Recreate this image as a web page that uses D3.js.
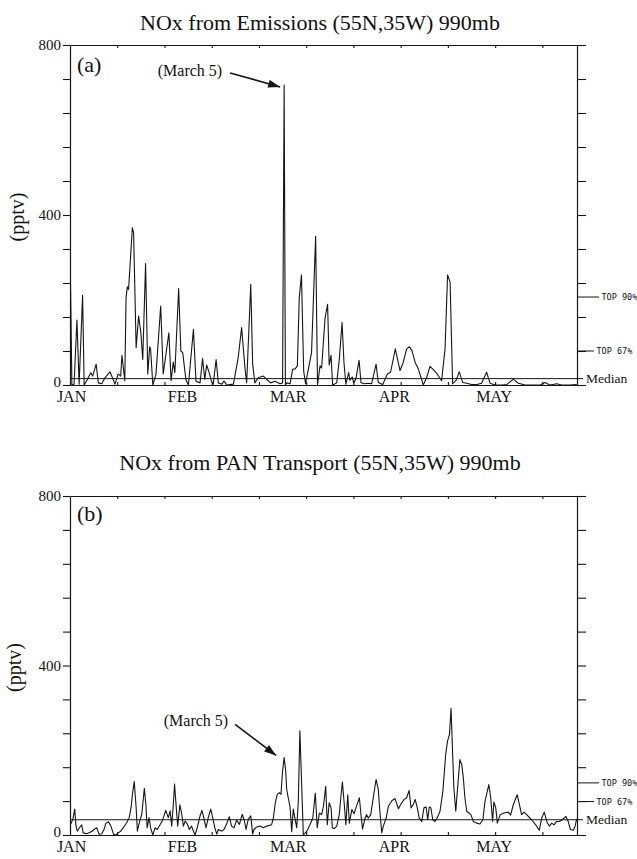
<!DOCTYPE html>
<html>
<head>
<meta charset="utf-8">
<script src="https://cdn.jsdelivr.net/npm/d3@7/dist/d3.min.js"></script>
<style>
  body { margin: 0; background: #fff; }
  svg { display: block; }
  text { fill: #111; }
</style>
</head>
<body>
<svg id="chart" width="637" height="859"></svg>
<script>
// ---- data: [day since Jan 1, NOx (pptv)] ----
const emissionsSeries = [
  [0,330],[0.6,0],[1.3,2],[2.2,153],[2.9,2],[4.0,211],[4.5,0],[5.5,13],[6.6,29],[7.2,21],[8.3,49],[9.0,5],
  [10.1,3],[11.1,17],[12.7,31],[14.3,2],[15.3,26],[16.1,21],[16.5,70],[17.4,10],[17.8,205],[18.2,231],[18.6,225],
  [19.8,370],[20.2,358],[21.0,88],[21.8,162],[22.5,123],[23.1,60],[24.0,286],[24.7,26],[25.3,90],[25.6,84],[26.3,0],
  [27.3,25],[28.8,186],[29.6,26],[31.4,123],[32.1,10],[32.8,54],[33.3,29],[34.5,227],[35.2,80],[35.8,76],[36.8,13],
  [37.6,0],[39.2,131],[40.0,9],[41.3,5],[42.1,62],[42.8,13],[43.4,47],[44.2,29],[44.9,9],[45.5,2],[46.4,60],[47.1,5],
  [48.2,2],[48.9,9],[49.8,0],[51.9,2],[53.4,64],[54.5,135],[55.6,37],[56.1,5],[57.4,237],[58.0,49],[58.7,5],[59.8,17],
  [61.4,21],[62.5,13],[63.7,5],[65.1,9],[66.7,3],[67.5,5],[68.0,706],[68.4,0],[68.8,5],[69.9,3],[70.7,37],[71.5,38],
  [72.2,45],[72.8,205],[73.5,259],[74.2,33],[74.8,3],[76.7,76],[78.0,350],[78.6,0],[79.4,45],[79.9,40],[81.0,158],
  [81.8,190],[82.3,47],[82.9,70],[83.4,0],[84.7,5],[85.5,59],[86.4,147],[87.0,53],[87.6,2],[88.5,29],[88.9,11],
  [89.6,19],[90.1,5],[90.8,15],[91.8,58],[92.4,6],[93.4,3],[94.7,4],[95.8,3],[97.2,49],[97.9,6],[99.3,1],[100.8,26],
  [101.8,30],[103.3,85],[104.8,34],[105.8,53],[106.9,85],[107.8,90],[108.6,81],[109.6,53],[110.6,38],[112.2,0],
  [113.3,18],[114.3,44],[115.4,36],[116.6,26],[118.0,10],[119.1,85],[119.9,259],[120.7,242],[121.5,3],[122.6,11],
  [123.6,31],[124.7,6],[126.0,4],[127.6,1],[129.2,1],[130.7,4],[132.3,30],[133.4,4],[135.0,0],[137.1,0],[138.7,1],
  [140.8,14],[142.4,4],[144.5,0],[147.1,0],[149.3,0],[150.8,6],[152.4,0],[154.6,3],[156.1,0],[158.8,0],[160.9,1]
];

const panSeries = [
  [0,35],[0.2,25],[0.9,37],[1.5,61],[1.9,21],[2.3,9],[3.0,17],[3.7,24],[4.2,5],[5.3,3],[6.9,8],[7.6,13],[8.5,17],
  [9.2,2],[10.1,3],[10.8,13],[11.4,28],[12.2,31],[13.0,21],[13.8,2],[14.5,0],[15.3,5],[16.1,9],[17.1,19],[18.0,29],
  [18.8,41],[19.4,65],[19.9,100],[20.4,126],[21.0,65],[21.4,9],[22.0,29],[22.8,49],[23.6,110],[24.1,72],[24.5,17],
  [25.1,41],[25.6,17],[26.3,0],[27.0,17],[27.7,13],[28.6,24],[29.4,35],[30.4,58],[31.2,41],[31.8,57],[32.3,21],
  [32.8,72],[33.2,120],[33.7,69],[34.2,21],[34.9,71],[35.5,49],[36.0,21],[36.6,33],[37.3,25],[37.9,13],[38.6,21],
  [39.2,9],[39.7,0],[40.4,17],[41.3,45],[41.9,58],[42.6,37],[43.2,17],[43.9,41],[44.7,61],[45.3,41],[46.0,17],
  [46.6,2],[47.1,13],[48.2,9],[48.9,13],[49.8,27],[50.6,43],[51.3,21],[52.1,17],[52.9,35],[53.8,25],[54.7,49],
  [55.4,33],[55.9,13],[56.6,37],[57.4,45],[58.0,2],[58.4,13],[59.3,19],[60.3,21],[61.4,17],[62.5,21],[64.0,24],
  [64.6,41],[65.2,76],[65.8,96],[66.5,100],[67.0,96],[67.5,151],[68.0,183],[68.5,151],[68.8,108],[69.3,88],[69.9,65],
  [70.4,8],[70.9,61],[71.5,37],[72.0,17],[72.5,80],[73.0,246],[73.6,112],[74.1,0],[75.2,9],[76.2,24],[77.1,40],
  [77.9,99],[78.5,17],[79.2,52],[79.9,48],[80.5,68],[81.2,115],[81.7,24],[82.3,76],[82.9,64],[83.3,17],[83.9,15],
  [84.7,21],[85.5,48],[86.0,88],[86.5,125],[87.1,72],[87.6,24],[88.2,95],[88.7,28],[89.5,60],[90.2,50],[90.8,64],
  [91.9,88],[92.4,48],[92.9,14],[93.7,40],[94.2,48],[94.7,40],[95.5,48],[96.3,88],[97.2,131],[97.9,107],[98.4,56],
  [99.0,5],[99.5,21],[100.4,40],[101.1,68],[102.2,81],[103.2,86],[104.3,62],[105.0,72],[106.1,84],[106.9,88],
  [107.7,105],[108.3,64],[109.0,72],[109.6,84],[110.3,64],[110.9,40],[111.7,32],[112.4,64],[113.1,66],[113.6,36],
  [114.1,66],[114.6,64],[115.2,36],[115.9,32],[116.6,40],[117.5,56],[118.4,103],[119.3,190],[119.9,222],[120.5,237],
  [121.0,299],[121.4,214],[121.9,111],[122.5,56],[123.0,103],[123.8,178],[124.4,166],[124.9,135],[125.4,88],[126.0,56],
  [126.7,52],[127.3,48],[128.1,32],[129.1,28],[130.2,26],[131.1,36],[131.8,80],[133.0,119],[133.6,88],[134.2,32],
  [134.6,78],[135.2,64],[135.7,28],[136.6,48],[137.8,52],[139.2,54],[139.9,47],[140.8,72],[142.0,95],[142.7,72],
  [143.4,48],[144.2,54],[145.0,48],[146.6,36],[148.2,21],[149.0,11],[149.8,40],[150.6,54],[151.4,32],[152.2,21],
  [153.0,28],[153.7,24],[154.5,32],[155.4,32],[156.3,36],[157.5,44],[158.2,32],[158.9,13],[159.8,11],[160.4,21],
  [160.9,38]
];

// axis ticks and labels
const yTickValues = [0, 80, 160, 240, 320, 400, 480, 560, 640, 720, 800];
const yLabelValues = [0, 400, 800];
const xTickDays = [15, 30, 45, 60, 75, 90, 105, 120, 135, 150];
const monthLabels = ["JAN", "FEB", "MAR", "APR", "MAY"];
const monthLabelDays = [0.5, 35.7, 69.3, 103.0, 134.7];

// reference levels per panel
const refLabels = ["TOP 90%", "TOP 67%"];
const emissionsRefValues = [207, 80];
const emissionsMedian = 15;
const panRefValues = [123, 79];
const panMedian = 36;

const annotationText = "(March 5)";
const annotationDay = 68.0;

const titles = ["NOx from Emissions (55N,35W) 990mb", "NOx from PAN Transport (55N,35W) 990mb"];
const panelTags = ["(a)", "(b)"];

// ---- drawing ----
const svg = d3.select("#chart");
const serif = "'Liberation Serif', 'Times New Roman', serif";
const mono = "'DejaVu Sans Mono', 'Liberation Mono', monospace";
const ink = "#151515";

const x = d3.scaleLinear().domain([0, 161]).range([70, 577]);

const defs = svg.append("defs");
defs.append("marker")
  .attr("id", "arrowhead")
  .attr("viewBox", "0 0 12 8")
  .attr("refX", 12).attr("refY", 4)
  .attr("markerWidth", 13).attr("markerHeight", 8)
  .attr("markerUnits", "userSpaceOnUse")
  .attr("orient", "auto")
  .append("path").attr("d", "M0,0 L12,4 L0,8 Z").attr("fill", ink);

const panels = [
  { series: emissionsSeries, refs: emissionsRefValues, median: emissionsMedian,
    yRange: [385, 45], titleY: 30, tagY: 72, pptvX: 24,
    arrowOff: [-4, 2], tailOff: [-50, -14], textPos: [190, 76] },
  { series: panSeries, refs: panRefValues, median: panMedian,
    yRange: [835, 496], titleY: 470, tagY: 521, pptvX: 21,
    arrowOff: [-8, -2], tailOff: [-41, -31], textPos: [196, 726] }
];

panels.forEach((p, i) => {
  const y = d3.scaleLinear().domain([0, 800]).range(p.yRange);
  const g = svg.append("g");
  const [y0, y1] = p.yRange;

  // title
  g.append("text")
    .attr("x", 320).attr("y", p.titleY)
    .attr("text-anchor", "middle")
    .attr("font-family", serif).attr("font-size", 22)
    .text(titles[i]);

  // left axis with labels at 0, 400, 800
  const left = d3.axisLeft(y).tickValues(yTickValues).tickSize(7).tickSizeOuter(0)
    .tickPadding(2)
    .tickFormat(d => yLabelValues.includes(d) ? d : "");
  const gl = g.append("g").attr("transform", `translate(${x(0)},0)`).call(left);
  gl.selectAll("text").attr("font-family", serif).attr("font-size", 15).attr("fill", ink)
    .attr("dy", d => d === 0 ? "0.1em" : "0.32em");

  // right axis
  const right = d3.axisRight(y).tickValues(yTickValues).tickSize(9).tickSizeOuter(0).tickFormat("");
  g.append("g").attr("transform", `translate(${x(161)},0)`).call(right);

  // bottom and top axes (short inward ticks)
  const bottom = d3.axisBottom(x).tickValues(xTickDays).tickSize(-3).tickSizeOuter(0).tickFormat("");
  g.append("g").attr("transform", `translate(0,${y0})`).call(bottom);
  const top = d3.axisTop(x).tickValues(xTickDays).tickSize(-3).tickSizeOuter(0).tickFormat("");
  g.append("g").attr("transform", `translate(0,${y1})`).call(top);

  g.selectAll(".domain").attr("stroke", ink).attr("stroke-width", 1.2);
  g.selectAll(".tick line").attr("stroke", ink).attr("stroke-width", 1.1);

  // month labels
  g.selectAll(".month").data(monthLabels).join("text")
    .attr("class", "month")
    .attr("x", (d, k) => x(monthLabelDays[k]))
    .attr("y", y0 + 17)
    .attr("text-anchor", "middle")
    .attr("font-family", serif).attr("font-size", 16)
    .text(d => d);

  // y title
  g.append("text")
    .attr("transform", `translate(${p.pptvX},${(y0 + y1) / 2 + 2}) rotate(-90)`)
    .attr("text-anchor", "middle")
    .attr("font-family", serif).attr("font-size", 20)
    .text("(pptv)");

  // panel tag
  g.append("text")
    .attr("x", 77).attr("y", p.tagY)
    .attr("font-family", serif).attr("font-size", 22)
    .text(panelTags[i]);

  // median line
  g.append("line")
    .attr("x1", x(0)).attr("x2", x(161) + 6)
    .attr("y1", y(p.median)).attr("y2", y(p.median))
    .attr("stroke", ink).attr("stroke-width", 1);
  g.append("text")
    .attr("x", x(161) + 9).attr("y", y(p.median) + 4.5)
    .attr("font-family", serif).attr("font-size", 13.5)
    .text("Median");

  // percentile markers on the right axis
  p.refs.forEach((v, k) => {
    const len = k === 0 ? 22 : 17;
    g.append("line")
      .attr("x1", x(161)).attr("x2", x(161) + len)
      .attr("y1", y(v)).attr("y2", y(v))
      .attr("stroke", ink).attr("stroke-width", 1);
    g.append("text")
      .attr("x", x(161) + len + 2.5).attr("y", y(v) + 3)
      .attr("font-family", mono).attr("font-size", 8.5)
      .text(refLabels[k]);
  });

  // data line, clipped to the plot box
  const clipId = "clip" + i;
  defs.append("clipPath").attr("id", clipId)
    .append("rect").attr("x", x(0)).attr("y", y1).attr("width", x(161) - x(0)).attr("height", y0 - y1);
  const line = d3.line().x(d => x(d[0])).y(d => y(d[1])).curve(d3.curveLinear);
  g.append("path")
    .datum(p.series)
    .attr("clip-path", `url(#${clipId})`)
    .attr("fill", "none")
    .attr("stroke", ink)
    .attr("stroke-width", 1.1)
    .attr("stroke-linejoin", "round")
    .attr("d", line);

  // "March 5" annotation pointing at that day's value
  const pt = p.series.find(d => d[0] === annotationDay);
  const tipX = x(pt[0]) + p.arrowOff[0];
  const tipY = y(pt[1]) + p.arrowOff[1];
  g.append("line")
    .attr("x1", tipX + p.tailOff[0]).attr("y1", tipY + p.tailOff[1])
    .attr("x2", tipX).attr("y2", tipY)
    .attr("stroke", ink).attr("stroke-width", 1.6)
    .attr("marker-end", "url(#arrowhead)");
  g.append("text")
    .attr("x", p.textPos[0]).attr("y", p.textPos[1])
    .attr("text-anchor", "middle")
    .attr("font-family", serif).attr("font-size", 16)
    .text(annotationText);
});
</script>
</body>
</html>
